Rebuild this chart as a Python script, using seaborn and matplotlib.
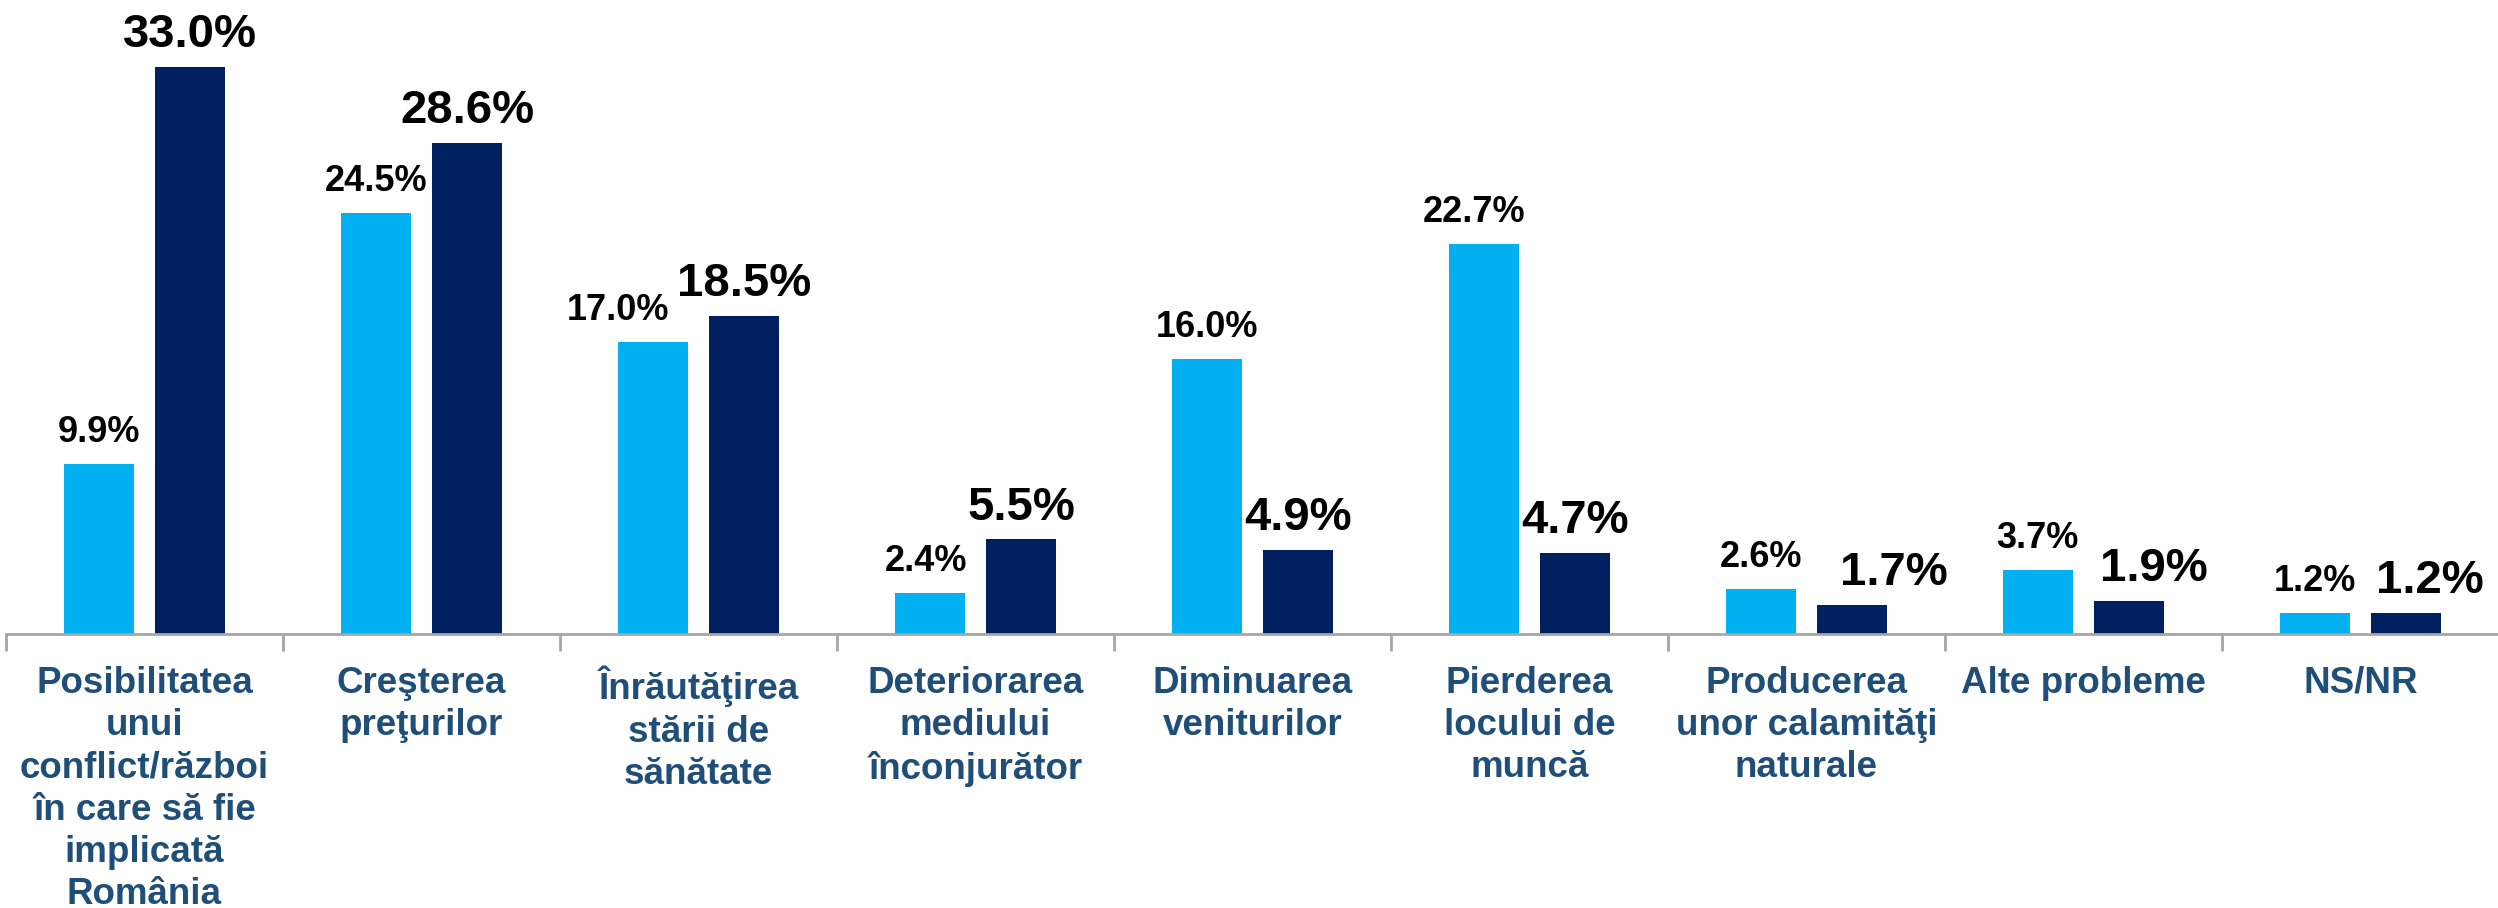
import numpy as np
import pandas as pd
import seaborn as sns
import matplotlib.pyplot as plt

# categories (Romanian, as in the source)
categories = [
    "Posibilitatea\nunui\nconflict/război\nîn care să fie\nimplicată\nRomânia",
    "Creşterea\npreţurilor",
    "Înrăutăţirea\nstării de\nsănătate",
    "Deteriorarea\nmediului\nînconjurător",
    "Diminuarea\nveniturilor",
    "Pierderea\nlocului de\nmuncă",
    "Producerea\nunor calamităţi\nnaturale",
    "Alte probleme",
    "NS/NR",
]
series_names = ["Serie 1", "Serie 2"]
values_light = [9.9, 24.5, 17.0, 2.4, 16.0, 22.7, 2.6, 3.7, 1.2]
values_dark = [33.0, 28.6, 18.5, 5.5, 4.9, 4.7, 1.7, 1.9, 1.2]

# sideways nudge (points) of some value labels so they don't collide
nudge_light = [0, 0, -25, -3, 0, -7, 0, 0, 0]
nudge_dark = [0, 0, 0, 0, 0, 0, 30, 18, 17]

df = pd.DataFrame({
    "cat": categories * 2,
    "serie": [series_names[0]] * len(categories) + [series_names[1]] * len(categories),
    "val": values_light + values_dark,
})

sns.set_theme(style="white")
plt.rcParams["font.family"] = ["Liberation Sans", "DejaVu Sans"]

fig = plt.figure(figsize=(24.98, 9.08), dpi=100)
ax = fig.add_axes([0.0024, 0.302, 0.998, 0.698])

sns.barplot(data=df, x="cat", y="val", hue="serie", order=categories,
            hue_order=series_names, palette=["#00B0F0", "#002060"],
            saturation=1, width=0.66, gap=0.23, linewidth=0,
            legend=False, ax=ax)

# value labels: light series smaller, dark series larger
lbl_light = ax.bar_label(ax.containers[0], fmt="{:.1f}%", padding=10,
                         fontsize=26, fontweight="bold", color="black")
lbl_dark = ax.bar_label(ax.containers[1], fmt="{:.1f}%", padding=7,
                        fontsize=34, fontweight="bold", color="black")
for lbl, dx in zip(lbl_light, nudge_light):
    lbl.xyann = (dx, lbl.xyann[1])
for lbl, dx in zip(lbl_dark, nudge_dark):
    lbl.xyann = (dx, lbl.xyann[1])

ax.set_xlim(-0.5, 8.5)
ax.set_ylim(0, 36.9)
ax.set_xlabel("")
ax.set_ylabel("")
ax.set_yticks([])

for s in ["top", "right", "left"]:
    ax.spines[s].set_visible(False)
ax.spines["bottom"].set_color("#A6A6A6")
ax.spines["bottom"].set_linewidth(2)

# category labels centred, tick marks on category boundaries
ax.set_xticks(np.arange(len(categories)))
ax.set_xticklabels(categories, fontsize=26.5, fontweight="bold",
                   color="#1F4E79", linespacing=1.27)
ax.tick_params(axis="x", which="major", bottom=True, length=0, pad=23)
ax.set_xticks(np.arange(len(categories) + 1) - 0.5, minor=True)
ax.tick_params(axis="x", which="minor", bottom=True, length=12, width=2,
               color="#A6A6A6", direction="out")

fig.savefig("out.png", dpi=100)
